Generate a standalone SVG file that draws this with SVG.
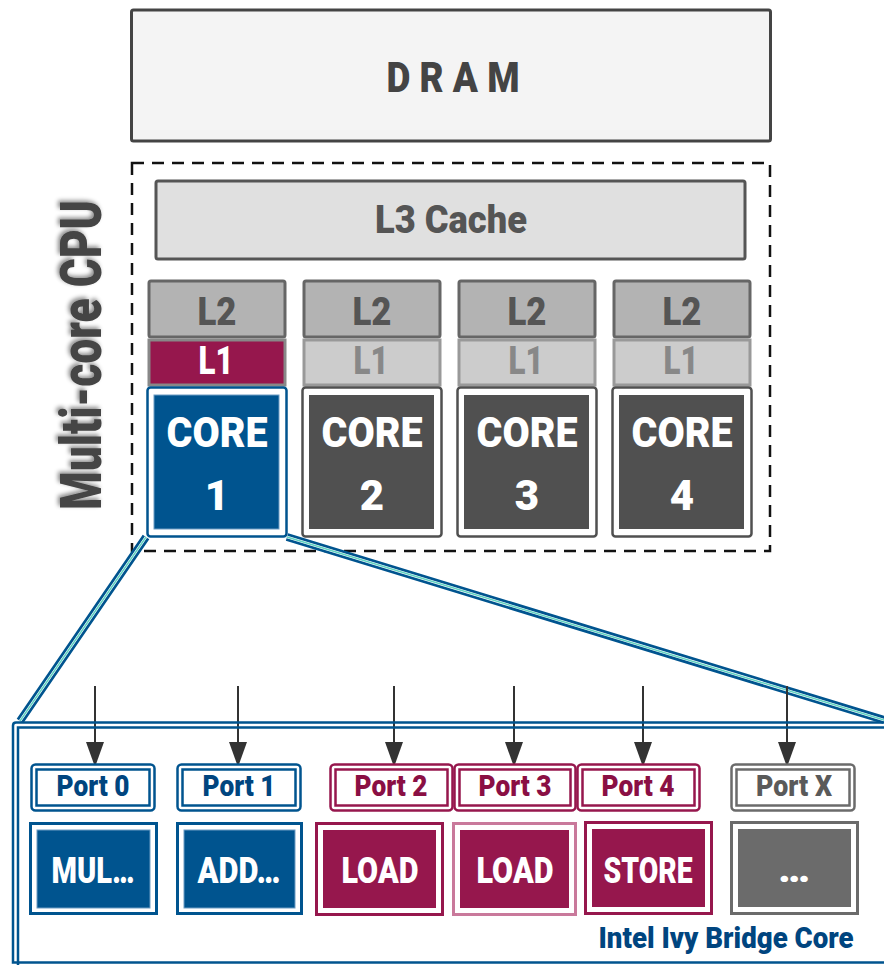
<svg xmlns="http://www.w3.org/2000/svg" xmlns:xlink="http://www.w3.org/1999/xlink" width="884" height="965" viewBox="0 0 884 965">
  <style>
    text { font-family: Roboto, "Liberation Sans", Arial, sans-serif; font-weight: 900; text-anchor: middle; }
    .dram { fill: #f4f4f4; stroke: #444; stroke-width: 3; }
    .cpu { fill: none; stroke: #111; stroke-width: 2.5; stroke-dasharray: 12 8; }
    .l3 { fill: #e0e0e0; stroke: #555; stroke-width: 3; }
    .l2 { fill: #b3b3b3; stroke: #666; stroke-width: 3; }
    .l1 { fill: #cccccc; stroke: #999; stroke-width: 3; }
    .l1a { fill: #96174d; stroke: #888; stroke-width: 3; }
    .gtxt { fill: #555; font-size: 39px; }
    .l1txt { fill: #888; font-size: 38px; }
    .wtxt { fill: #fff; }
    .core-o { fill: #fff; stroke-width: 2.5; }
    .core-txt { fill: #fff; font-size: 42px; }
    .blue-o { stroke: #00548f; }
    .blue-f { fill: #00548f; }
    .gray-o { stroke: #505050; }
    .gray-f { fill: #505050; }
    .port-o { fill: #fff; stroke-width: 2.5; }
    .port-txt { font-size: 29px; }
    .fu-o { fill: #fff; stroke-width: 3; }
    .fu-txt { fill: #fff; font-size: 36px; }
    .c-blue { stroke: #00548f; }
    .t-blue { fill: #00457f; }
    .c-red { stroke: #96174d; }
    .t-red { fill: #8a0f44; }
    .f-red { fill: #96174d; }
    .c-red2 { stroke: #c9799b; }
    .c-grey { stroke: #6b6b6b; }
    .t-grey { fill: #5a5a5a; }
    .f-grey { fill: #6b6b6b; }
    .arrow { stroke: #333; stroke-width: 2; fill: none; }
    .zoom-o { stroke: #00548f; stroke-width: 8; fill: none; }
    .zoom-m { stroke: #fff; stroke-width: 2.6; fill: none; }
    .zoom-i { stroke: #5fd3c0; stroke-width: 1.4; fill: none; }
    .frame { fill: none; stroke: #00548f; stroke-width: 2.5; }
  </style>
  <defs>
    <!-- downward arrowhead, tip at (0,0) -->
    <path id="head" d="M-9,-25 L9,-25 L0,0 Z" fill="#333"/>
    <filter id="shadow" x="-20%" y="-20%" width="140%" height="140%">
      <feDropShadow dx="-2" dy="-2" stdDeviation="2" flood-color="#000" flood-opacity="0.45"/>
    </filter>
  </defs>

  <!-- memory -->
  <g id="dram">
    <rect class="dram" x="131.5" y="10" width="639" height="131" rx="2"/>
    <text x="453" y="92" font-size="42" fill="#444" textLength="133" lengthAdjust="spacingAndGlyphs">D R A M</text>
  </g>

  <!-- CPU package -->
  <g id="cpu">
    <rect class="cpu" x="132" y="163" width="638" height="388"/>
    <g filter="url(#shadow)">
      <text transform="translate(101 355) rotate(-90)" font-size="57" fill="#444" textLength="310" lengthAdjust="spacingAndGlyphs">Multi-core CPU</text>
    </g>
  </g>

  <g id="l3">
    <rect class="l3" x="156" y="181" width="589" height="78" rx="2"/>
    <text x="451" y="233" class="gtxt" textLength="152" lengthAdjust="spacingAndGlyphs">L3 Cache</text>
  </g>

  <!-- per-core caches -->
  <g id="l2-1"><rect class="l2" x="149" y="281" width="136" height="56" rx="2"/><text x="217" y="325" class="gtxt" textLength="39" lengthAdjust="spacingAndGlyphs">L2</text></g>
  <g id="l2-2"><rect class="l2" x="304" y="281" width="136" height="56" rx="2"/><text x="372" y="325" class="gtxt" textLength="39" lengthAdjust="spacingAndGlyphs">L2</text></g>
  <g id="l2-3"><rect class="l2" x="459" y="281" width="136" height="56" rx="2"/><text x="527" y="325" class="gtxt" textLength="39" lengthAdjust="spacingAndGlyphs">L2</text></g>
  <g id="l2-4"><rect class="l2" x="614" y="281" width="136" height="56" rx="2"/><text x="682" y="325" class="gtxt" textLength="39" lengthAdjust="spacingAndGlyphs">L2</text></g>

  <g id="l1-1"><rect class="l1a" x="149" y="340" width="136" height="45"/><text x="216" y="374" class="wtxt" font-size="38" textLength="35" lengthAdjust="spacingAndGlyphs">L1</text></g>
  <g id="l1-2"><rect class="l1" x="304" y="340" width="136" height="45"/><text x="371" y="374" class="l1txt" textLength="35" lengthAdjust="spacingAndGlyphs">L1</text></g>
  <g id="l1-3"><rect class="l1" x="459" y="340" width="136" height="45"/><text x="526" y="374" class="l1txt" textLength="35" lengthAdjust="spacingAndGlyphs">L1</text></g>
  <g id="l1-4"><rect class="l1" x="614" y="340" width="136" height="45"/><text x="681" y="374" class="l1txt" textLength="35" lengthAdjust="spacingAndGlyphs">L1</text></g>

  <!-- cores -->
  <g id="core-1">
    <rect class="core-o blue-o" x="147.5" y="387.5" width="139" height="149" rx="3"/>
    <rect class="blue-f" x="154" y="395" width="125" height="134" stroke="#6d9cc3" stroke-width="1"/>
    <text x="217" y="447" class="core-txt" textLength="101" lengthAdjust="spacingAndGlyphs">CORE</text>
    <text x="217" y="510" class="core-txt">1</text>
  </g>
  <g id="core-2">
    <rect class="core-o gray-o" x="302.5" y="387.5" width="139" height="149" rx="3"/>
    <rect class="gray-f" x="309" y="395" width="125" height="134"/>
    <text x="372" y="447" class="core-txt" textLength="101" lengthAdjust="spacingAndGlyphs">CORE</text>
    <text x="372" y="510" class="core-txt">2</text>
  </g>
  <g id="core-3">
    <rect class="core-o gray-o" x="457.5" y="387.5" width="139" height="149" rx="3"/>
    <rect class="gray-f" x="464" y="395" width="125" height="134"/>
    <text x="527" y="447" class="core-txt" textLength="101" lengthAdjust="spacingAndGlyphs">CORE</text>
    <text x="527" y="510" class="core-txt">3</text>
  </g>
  <g id="core-4">
    <rect class="core-o gray-o" x="612.5" y="387.5" width="139" height="149" rx="3"/>
    <rect class="gray-f" x="619" y="395" width="125" height="134"/>
    <text x="682" y="447" class="core-txt" textLength="101" lengthAdjust="spacingAndGlyphs">CORE</text>
    <text x="682" y="510" class="core-txt">4</text>
  </g>

  <!-- connectors: zoom lines from core 1 and dispatch arrows into the ports -->
  <g id="connectors">
    <path class="zoom-o" d="M146,537 L20,721 M287,537 L884,720"/>
    <path class="zoom-m" d="M146,537 L20,721 M287,537 L884,720"/>
    <path class="zoom-i" d="M146,537 L20,721 M287,537 L884,720"/>
    <path class="arrow" d="M95,686 V745 M238,686 V745 M394,686 V745 M514,686 V745 M643,686 V745 M787,686 V745"/>
    <use xlink:href="#head" href="#head" x="95" y="767"/>
    <use xlink:href="#head" href="#head" x="238" y="767"/>
    <use xlink:href="#head" href="#head" x="394" y="767"/>
    <use xlink:href="#head" href="#head" x="514" y="767"/>
    <use xlink:href="#head" href="#head" x="643" y="767"/>
    <use xlink:href="#head" href="#head" x="787" y="767"/>
  </g>

  <!-- core detail frame (runs off the right edge) -->
  <g id="ivy-bridge-core">
    <path class="frame" d="M884,722.5 H16 Q13,722.5 13,725.5 V962.5 H884"/>
    <path class="frame" d="M884,727.5 H18 V965"/>
  </g>
  <g id="ivy-bridge-label">
    <text x="726" y="948" font-size="30" class="t-blue" textLength="255" lengthAdjust="spacingAndGlyphs">Intel Ivy Bridge Core</text>
  </g>

  <!-- ports -->
  <g id="port-0"><rect class="port-o c-blue" x="31.5" y="764.5" width="123" height="46" rx="4"/><rect class="port-o c-blue" x="36.5" y="769.5" width="113" height="36"/><text x="93" y="796" class="port-txt t-blue" textLength="73" lengthAdjust="spacingAndGlyphs">Port 0</text></g>
  <g id="port-1"><rect class="port-o c-blue" x="177.5" y="764.5" width="123" height="46" rx="4"/><rect class="port-o c-blue" x="182.5" y="769.5" width="113" height="36"/><text x="239" y="796" class="port-txt t-blue" textLength="73" lengthAdjust="spacingAndGlyphs">Port 1</text></g>
  <g id="port-2"><rect class="port-o c-red" x="330.5" y="764.5" width="122" height="46" rx="4"/><rect class="port-o c-red" x="335.5" y="769.5" width="112" height="36"/><text x="391" y="796" class="port-txt t-red" textLength="73" lengthAdjust="spacingAndGlyphs">Port 2</text></g>
  <g id="port-3"><rect class="port-o c-red" x="454.5" y="764.5" width="121" height="46" rx="4"/><rect class="port-o c-red" x="459.5" y="769.5" width="111" height="36"/><text x="515" y="796" class="port-txt t-red" textLength="73" lengthAdjust="spacingAndGlyphs">Port 3</text></g>
  <g id="port-4"><rect class="port-o c-red" x="577.5" y="764.5" width="122" height="46" rx="4"/><rect class="port-o c-red" x="582.5" y="769.5" width="112" height="36"/><text x="638" y="796" class="port-txt t-red" textLength="73" lengthAdjust="spacingAndGlyphs">Port 4</text></g>
  <g id="port-x"><rect class="port-o c-grey" x="731.5" y="764.5" width="123" height="46" rx="4"/><rect class="port-o c-grey" x="736.5" y="769.5" width="113" height="36"/><text x="794" y="796" class="port-txt t-grey" textLength="76" lengthAdjust="spacingAndGlyphs">Port X</text></g>

  <!-- execution units -->
  <g id="unit-mul"><rect class="fu-o c-blue" x="30.5" y="823.5" width="126" height="90"/><rect class="blue-f" x="37" y="830" width="113" height="78" stroke="#6d9cc3" stroke-width="1"/><text x="93" y="883" class="fu-txt" textLength="83" lengthAdjust="spacingAndGlyphs">MUL…</text></g>
  <g id="unit-add"><rect class="fu-o c-blue" x="177.5" y="823.5" width="124" height="90"/><rect class="blue-f" x="184" y="830" width="111" height="78" stroke="#6d9cc3" stroke-width="1"/><text x="239" y="883" class="fu-txt" textLength="83" lengthAdjust="spacingAndGlyphs">ADD…</text></g>
  <g id="unit-load-a"><rect class="fu-o c-red" x="316.5" y="823.5" width="126" height="91"/><rect class="f-red" x="323" y="830" width="113" height="78"/><text x="380" y="883" class="fu-txt" textLength="77" lengthAdjust="spacingAndGlyphs">LOAD</text></g>
  <g id="unit-load-b"><rect class="fu-o c-red2" x="453.5" y="823.5" width="122" height="91"/><rect class="f-red" x="460" y="830" width="109" height="78"/><text x="515" y="883" class="fu-txt" textLength="77" lengthAdjust="spacingAndGlyphs">LOAD</text></g>
  <g id="unit-store"><rect class="fu-o c-red" x="585.5" y="822.5" width="126" height="91"/><rect class="f-red" x="592" y="829" width="113" height="78"/><text x="648" y="883" class="fu-txt" textLength="89" lengthAdjust="spacingAndGlyphs">STORE</text></g>
  <g id="unit-other"><rect class="fu-o c-grey" x="731.5" y="822.5" width="126" height="91"/><rect class="f-grey" x="738" y="829" width="113" height="78"/><text x="794" y="882" class="fu-txt" textLength="32" lengthAdjust="spacingAndGlyphs">…</text></g>
</svg>
